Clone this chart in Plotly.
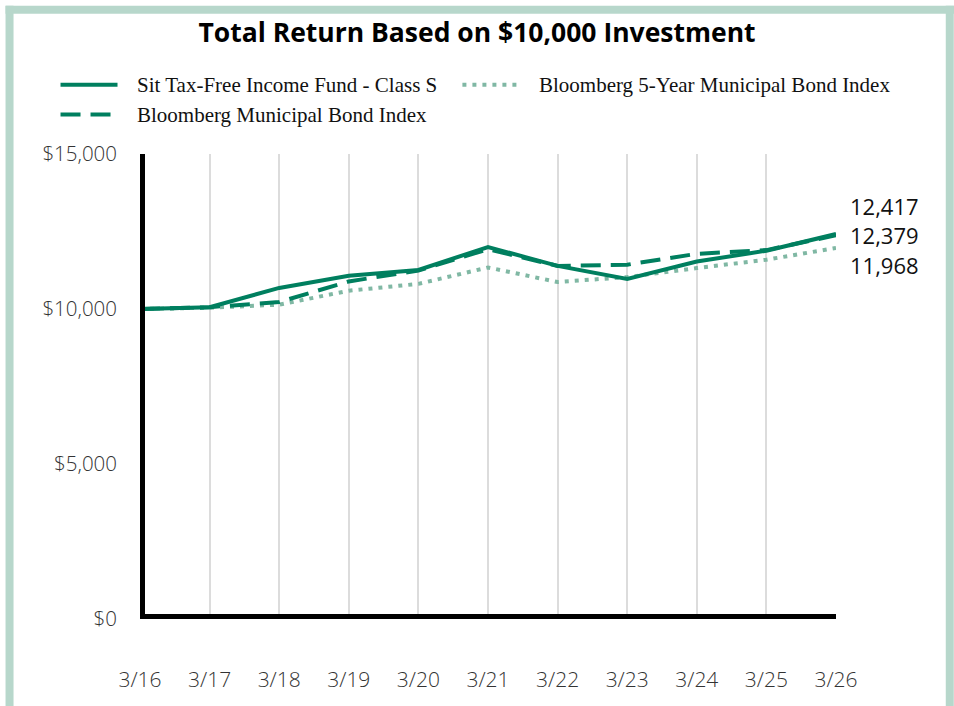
import plotly.graph_objects as go

# ---- data ----
categories = ["3/16", "3/17", "3/18", "3/19", "3/20", "3/21", "3/22", "3/23", "3/24", "3/25", "3/26"]
fund = [10000, 10060, 10680, 11070, 11260, 12000, 11390, 10970, 11530, 11880, 12417]
muni = [10000, 10060, 10225, 10890, 11240, 11930, 11390, 11430, 11780, 11900, 12379]
muni5 = [10000, 10040, 10140, 10590, 10810, 11340, 10870, 11030, 11320, 11590, 11968]
series_names = ["Sit Tax-Free Income Fund - Class S",
                "Bloomberg Municipal Bond Index",
                "Bloomberg 5-Year Municipal Bond Index"]
y_tickvals = [0, 5000, 10000, 15000]
y_ticktext = ["$0", "$5,000", "$10,000", "$15,000"]
title_text = "Total Return Based on $10,000 Investment"

# ---- style ----
C_DARK = "#007f5f"
C_LIGHT = "#80b8a4"
C_BORDER = "#b7d7cb"
xi = list(range(len(categories)))

fig = go.Figure()
fig.add_trace(go.Scatter(x=xi, y=muni5, mode="lines", name=series_names[2],
                         line=dict(color=C_LIGHT, width=4, dash="4px,6px"),
                         showlegend=False, hoverinfo="skip"))
fig.add_trace(go.Scatter(x=xi, y=muni, mode="lines", name=series_names[1],
                         line=dict(color=C_DARK, width=4, dash="20px,10px"),
                         showlegend=False, hoverinfo="skip"))
fig.add_trace(go.Scatter(x=xi, y=fund, mode="lines", name=series_names[0],
                         line=dict(color=C_DARK, width=4),
                         showlegend=False, hoverinfo="skip"))

PL, PR, PT, PB = 139.5, 835.7, 153.5, 619.5
PW, PH = PR - PL, PB - PT


def px_x(px):
    return (px - PL) / PW


def px_y(py):
    return (PB - py) / PH


shapes = []
# black axis lines through data scales
shapes.append(dict(type="line", xref="x", yref="y", x0=0, x1=10, y0=0, y1=0,
                   line=dict(color="black", width=10), layer="above"))
shapes.append(dict(type="line", xref="x", yref="y", x0=0, x1=0, y0=-170, y1=15000,
                   line=dict(color="black", width=10), layer="above"))
# outer border
shapes.append(dict(type="line", xref="paper", yref="paper",
                   x0=px_x(9), x1=px_x(9), y0=px_y(720), y1=px_y(5),
                   line=dict(color=C_BORDER, width=8)))
shapes.append(dict(type="line", xref="paper", yref="paper",
                   x0=px_x(5), x1=px_x(954), y0=px_y(9), y1=px_y(9),
                   line=dict(color=C_BORDER, width=8)))
shapes.append(dict(type="line", xref="paper", yref="paper",
                   x0=px_x(949.5), x1=px_x(949.5), y0=px_y(720), y1=px_y(5),
                   line=dict(color=C_BORDER, width=8)))

# custom legend
legend_items = [
    (series_names[0], C_DARK, "solid", 60, 117, 134, 84),
    (series_names[2], C_LIGHT, "4px,6px", 462, 518, 537, 84),
    (series_names[1], C_DARK, "20px,10px", 60, 117, 134, 114),
]
annotations = []
for name, col, dash, lx0, lx1, tx, ty in legend_items:
    shapes.append(dict(type="line", xref="paper", yref="paper",
                       x0=px_x(lx0), x1=px_x(lx1), y0=px_y(ty), y1=px_y(ty),
                       line=dict(color=col, width=4, dash=dash)))
    annotations.append(dict(xref="paper", yref="paper", x=px_x(tx), y=px_y(ty),
                            text=name, showarrow=False, xanchor="left", yanchor="middle",
                            font=dict(family="Liberation Serif, Times New Roman, serif",
                                      size=21, color="#111")))

# end value labels
end_vals = [fund[-1], muni[-1], muni5[-1]]
label_y = [206, 235, 264.5]
for v, ly in zip(end_vals, label_y):
    annotations.append(dict(xref="x", yref="paper", x=xi[-1], y=px_y(ly),
                            text=f"{v:,}", showarrow=False, xanchor="left", yanchor="middle",
                            xshift=13, borderpad=0,
                            font=dict(family="Open Sans", size=22, color="#111")))

fig.update_layout(
    width=954, height=706,
    margin=dict(l=PL, r=954 - PR, t=PT, b=706 - PB, pad=0),
    paper_bgcolor="white", plot_bgcolor="white",
    title=dict(text=f"<b>{title_text}</b>", x=0.5, xanchor="center",
               y=1 - 33 / 706, yanchor="middle",
               font=dict(family="Open Sans", size=26.5, color="#000")),
    xaxis=dict(range=[0, 10], tickvals=xi, ticktext=categories, showgrid=True,
               gridcolor="#dcdcdc", gridwidth=2, zeroline=False, showline=False,
               ticks="", ticklabelstandoff=46,
               tickfont=dict(family="Open Sans", size=21, color="#333", weight=300)),
    yaxis=dict(range=[0, 15000], tickvals=y_tickvals, ticktext=y_ticktext,
               showgrid=False, zeroline=False, showline=False, ticks="",
               ticklabelstandoff=22,
               tickfont=dict(family="Open Sans", size=20.5, color="#333", weight=300)),
    shapes=shapes, annotations=annotations, showlegend=False,
)

fig.write_html("out.html", config={"displayModeBar": False},
               post_script="document.body.style.margin='0';")
